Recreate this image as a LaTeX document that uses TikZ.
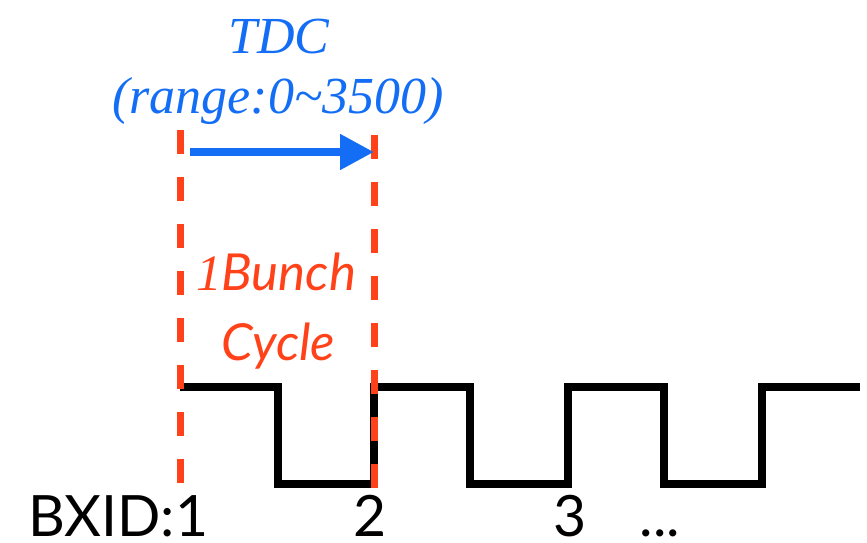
\documentclass[tikz,border=0pt]{standalone}
\usepackage{fontspec}
\setmainfont{Liberation Serif}
\newfontfamily\gill{Lato}
\usetikzlibrary{arrows.meta}
\definecolor{tdcblue}{RGB}{20,110,245}
\definecolor{bunchred}{RGB}{255,66,25}
\tikzset{
  wave/.style={line width=7.5pt, black, miter limit=10},
  cutline/.style={line width=7pt, bunchred, dash pattern=on 24pt off 23pt},
  tdcarrow/.style={line width=8pt, tdcblue, -{Triangle[length=34pt,width=34pt]}},
  tdctext/.style={text=tdcblue, font=\fontsize{52}{54}\selectfont\itshape, anchor=base, inner sep=0pt},
  bunchtext/.style={text=bunchred, font=\gill\fontsize{51}{53}\selectfont\itshape, anchor=base, inner sep=0pt},
  bxtext/.style={text=black, font=\gill\fontsize{57}{59}\selectfont, anchor=base, inner sep=0pt, text depth=0pt}
}
\begin{document}
\begin{tikzpicture}[x=1pt,y=-1pt]
\useasboundingbox (0,0) rectangle (867,542);
% square wave
\draw[wave] (180,387) coordinate (w0) -- (278,387) -- (278,484) -- (374,484) -- (374,387) -- (470,387) -- (470,484) -- (568,484) -- (568,387) -- (664,387) -- (664,484) -- (762,484) -- (762,387) -- (860,387) coordinate (w1);
% dashed cycle boundaries
\coordinate (l0) at (180,130);
\coordinate (l1) at (180,488);
\coordinate (r0) at (374,135);
\coordinate (r1) at (374,488);
\draw[cutline] (l0) -- (l1);
\draw[cutline] (r0) -- (r1);
% TDC arrow
\coordinate (a0) at (190,152);
\coordinate (a1) at (374,152);
\draw[tdcarrow] (a0) -- (a1);
% texts
\node[tdctext] (tdc) at (279,53) {TDC};
\node[tdctext] (range) at (278,113) {(range:0\textasciitilde3500)};
\node[bunchtext] (bunch) at (276,290) {{\fontspec{Liberation Serif}\itshape 1}Bunch};
\node[bunchtext] (cycle) at (278,360) {Cycle};
\node[bxtext, anchor=base west] (bx) at (28,536) {BXID:1};
\node[bxtext] (n2) at (370,536) {2};
\node[bxtext] (n3) at (570,536) {3};
\node[bxtext] (dots) at (660,536) {...};
\end{tikzpicture}
\end{document}
